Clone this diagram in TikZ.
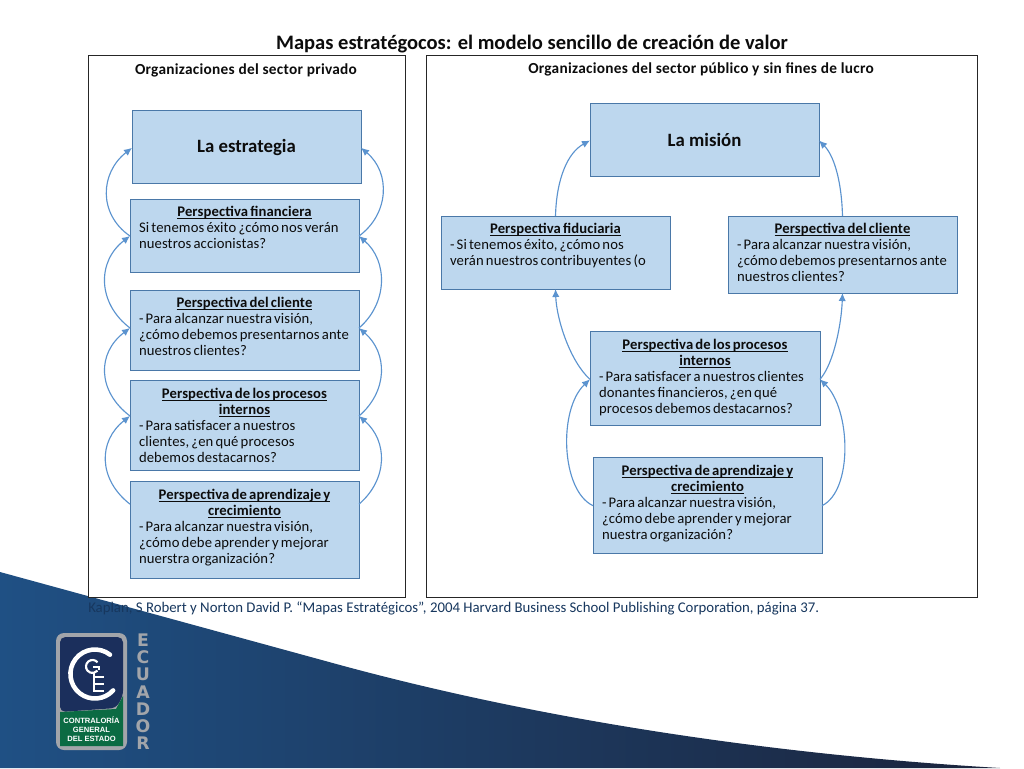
\documentclass[tikz,border=0pt]{standalone}
\usepackage{fontspec}
\setmainfont{Carlito}
\newfontfamily\logofont{Liberation Sans}
\newfontfamily\ecufont{DejaVu Sans}
\usetikzlibrary{arrows.meta,shadings}
\definecolor{boxfill}{HTML}{BDD7EE}
\definecolor{boxline}{HTML}{4A78A8}
\definecolor{flowcol}{HTML}{5B93CF}
\definecolor{inktext}{HTML}{0C0C0C}
\definecolor{cite}{HTML}{17375E}
\definecolor{logogrey}{HTML}{A2A5AA}
\definecolor{logodark}{HTML}{1B2F5C}
\definecolor{logogreen}{HTML}{0B6B43}
\newsavebox{\hdbox}
\tikzset{
  x=0.75pt,y=-0.75pt,
  framebox/.style={draw=black!85,line width=0.6pt,fill=white,anchor=north west,inner sep=0pt,outer sep=0pt},
  boxbase/.style={draw=boxline,line width=0.7pt,fill=boxfill,text=inktext,outer sep=0pt},
  textbox/.style={boxbase,anchor=north west,inner xsep=6.75pt,inner ysep=0pt,align=left},
  bigbox/.style={boxbase,anchor=north west,inner sep=0pt,align=center,font=\fontsize{14.1}{16}\selectfont\bfseries},
  heading/.style={inner sep=0pt,text=inktext,font=\fontsize{11.5}{13}\selectfont\bfseries\addfontfeature{LetterSpace=1.8}},
  flow/.style={draw=flowcol,line width=0.85pt,-{Latex[length=6pt,width=5.5pt]}},
  ecu/.style={inner sep=0pt,text=logogrey,font=\fontsize{13}{13}\ecufont\bfseries},
}
\newcommand{\hd}[1]{{\centering\bfseries\strut\sbox{\hdbox}{#1}\rlap{\rule[-1.7pt]{\wd\hdbox}{0.65pt}}\usebox{\hdbox}\par}}
\newcommand{\pbox}[7][5pt]{%
  \node[textbox,text width={0.75pt*(#5-18)}] (#2) at (#3,#4)
  {\parbox[c][\dimexpr0.75pt*#6\relax][t]{\linewidth}{\fontsize{11}{12}\selectfont\addfontfeature{LetterSpace=0.8}\spaceskip=.15em\lineskiplimit=-20pt\parindent=0pt\raggedright\vspace*{#1}#7}};}
\begin{document}
\begin{tikzpicture}
\useasboundingbox (0,0) rectangle (1024,768);
\fill[white] (0,0) rectangle (1024,768);
% background swoosh
\shade[shading=axis,shading angle=90,
  left color={rgb,255:red,31;green,80;blue,132},middle color={rgb,255:red,31;green,60;blue,102},right color={rgb,255:red,27;green,36;blue,60}]
  (0,572) -- (340,665) .. controls (550,722) and (780,755) .. (1000,768) -- (0,768) -- cycle;
% frames
\node[framebox,minimum width={0.75pt*317},minimum height={0.75pt*542}] (privado) at (88,55) {};
\node[framebox,minimum width={0.75pt*551},minimum height={0.75pt*542}] (publico) at (426,55) {};
\node[inner sep=0pt,text=inktext,font=\fontsize{15.4}{17}\selectfont\bfseries] (titulo) at (532,44) {Mapas estratégocos: el modelo sencillo de creación de valor};
\node[heading] (tpriv) at (246,70) {Organizaciones del sector privado};
\node[heading] (tpub) at (701,69) {Organizaciones del sector público y sin fines de lucro};
% left column
\node[bigbox,minimum width={0.75pt*229},minimum height={0.75pt*73},text height=10pt,text depth=1pt] (estrategia) at (132,110) {La estrategia};
\pbox{fin}{130}{199}{229}{73}{\hd{Perspectiva financiera}\strut Si tenemos éxito ¿cómo nos verán\\ nuestros accionistas?}
\pbox{cli}{130}{290}{229}{80}{\hd{Perspectiva del cliente}\strut - Para alcanzar nuestra visión,\\ ¿cómo debemos presentarnos ante\\ nuestros clientes?}
\pbox[5.7pt]{pro}{130}{380}{229}{90}{\hd{Perspectiva de los procesos}\hd{internos}\strut - Para satisfacer a nuestros\\ clientes, ¿en qué procesos\\ debemos destacarnos?}
\pbox[5.7pt]{apr}{130}{481}{229}{97}{\hd{Perspectiva de aprendizaje y}\hd{crecimiento}\strut - Para alcanzar nuestra visión,\\ ¿cómo debe aprender y mejorar\\ nuerstra organización?}
% right column
\node[bigbox,minimum width={0.75pt*229},minimum height={0.75pt*73}] (mision) at (590,103) {La misión};
\pbox{fid}{441}{216}{229}{73}{\hd{Perspectiva fiduciaria}\strut - Si tenemos éxito, ¿cómo nos\\ verán nuestros contribuyentes (o}
\pbox{cld}{728}{216}{229}{77}{\hd{Perspectiva del cliente}\strut - Para alcanzar nuestra visión,\\ ¿cómo debemos presentarnos ante\\ nuestros clientes?}
\pbox[5.7pt]{prd}{590}{331}{230}{94}{\hd{Perspectiva de los procesos}\hd{internos}\strut - Para satisfacer a nuestros clientes\\ donantes financieros, ¿en qué\\ procesos debemos destacarnos?}
\pbox[5.7pt]{apd}{593}{457}{229}{96}{\hd{Perspectiva de aprendizaje y}\hd{crecimiento}\strut - Para alcanzar nuestra visión,\\ ¿cómo debe aprender y mejorar\\ nuestra organización?}
% left connectors
\draw[flow] ([yshift=-0.4pt]fin.west) .. controls +(-32,-22) and +(-32,25) .. ([yshift=-1pt]estrategia.west);
\draw[flow] ([yshift=1.5pt]cli.west) .. controls +(-33,-25) and +(-33,25) .. ([yshift=-0.4pt]fin.west);
\draw[flow] ([yshift=6.75pt]pro.west) .. controls +(-33,-25) and +(-33,25) .. ([yshift=1.5pt]cli.west);
\draw[flow] ([yshift=19pt]apr.west) .. controls +(-32,-25) and +(-32,25) .. ([yshift=6.75pt]pro.west);
% right connectors, left column
\draw[flow] ([yshift=-0.4pt]fin.east) .. controls +(30,-22) and +(30,25) .. ([yshift=-1pt]estrategia.east);
\draw[flow] ([yshift=1.5pt]cli.east) .. controls +(29,-25) and +(29,25) .. ([yshift=-0.4pt]fin.east);
\draw[flow] ([yshift=6.75pt]pro.east) .. controls +(29,-25) and +(29,25) .. ([yshift=1.5pt]cli.east);
\draw[flow] ([yshift=19pt]apr.east) .. controls +(29,-25) and +(29,25) .. ([yshift=6.75pt]pro.east);
% mission connectors
\draw[flow] (fid.north) .. controls +(1,-38) and +(-22,12) .. ([yshift=-0.75pt]mision.west);
\draw[flow] (cld.north) .. controls +(-1,-38) and +(14,14) .. ([yshift=-0.75pt]mision.east);
\draw[flow] ([yshift=-1pt]prd.west) .. controls +(-20,-18) and +(1,30) .. (fid.south);
\draw[flow] ([yshift=-1pt]prd.east) .. controls +(14,-16) and +(-1,30) .. (cld.south);
\draw[flow] ([yshift=-0.5pt]apd.west) .. controls +(-32,-15) and +(-32,30) .. ([yshift=-1pt]prd.west);
\draw[flow] ([yshift=-0.5pt]apd.east) .. controls +(31,-15) and +(31,30) .. ([yshift=-1pt]prd.east);
% citation
\node[anchor=west,inner sep=0pt,text=cite,font=\fontsize{11.1}{13}\selectfont] (cita) at (88,608) {Kaplan, S Robert y Norton David P. “Mapas Estratégicos”, 2004 Harvard Business School Publishing Corporation, página 37.};
% logo
\fill[logogrey,rounded corners=6pt] (56,633) -- (127,633) -- (127,750) -- (56,750) -- cycle;
\fill[logodark,rounded corners=4pt] (60,637) -- (123,637) -- (123,696) -- (116,708) -- (60,712) -- cycle;
\fill[logogreen] (60,712) -- (116,709) -- (123,696) -- (123,746) -- (60,746) -- cycle;
\draw[white,line width=3.4pt,line cap=round] (110,654.7) arc[start angle=-52,end angle=-318,radius=24.5];
\draw[white,line width=1.6pt] (97.5,662.3) arc[start angle=-40,end angle=-320,radius=6.5];
\draw[white,line width=1.2pt] (93,667) -- (99,667) -- (99,670);
\draw[white,line width=2pt] (94,673) -- (94,692);
\draw[white,line width=1.6pt] (94,677) -- (104,677) (94,684) -- (104,684) (94,691) -- (104,691);
\node[inner sep=0pt,text=white,align=center,font=\fontsize{5.7}{7}\logofont\bfseries] (logotxt) at (91.5,729) {CONTRALORÍA\\GENERAL\\DEL ESTADO};
\node[ecu] (l1) at (143,640) {E};
\node[ecu] (l2) at (143,657) {C};
\node[ecu] (l3) at (143,674.5) {U};
\node[ecu] (l4) at (143,692) {A};
\node[ecu] (l5) at (143,709) {D};
\node[ecu] (l6) at (143,726) {O};
\node[ecu] (l7) at (143,743) {R};
\end{tikzpicture}
\end{document}
